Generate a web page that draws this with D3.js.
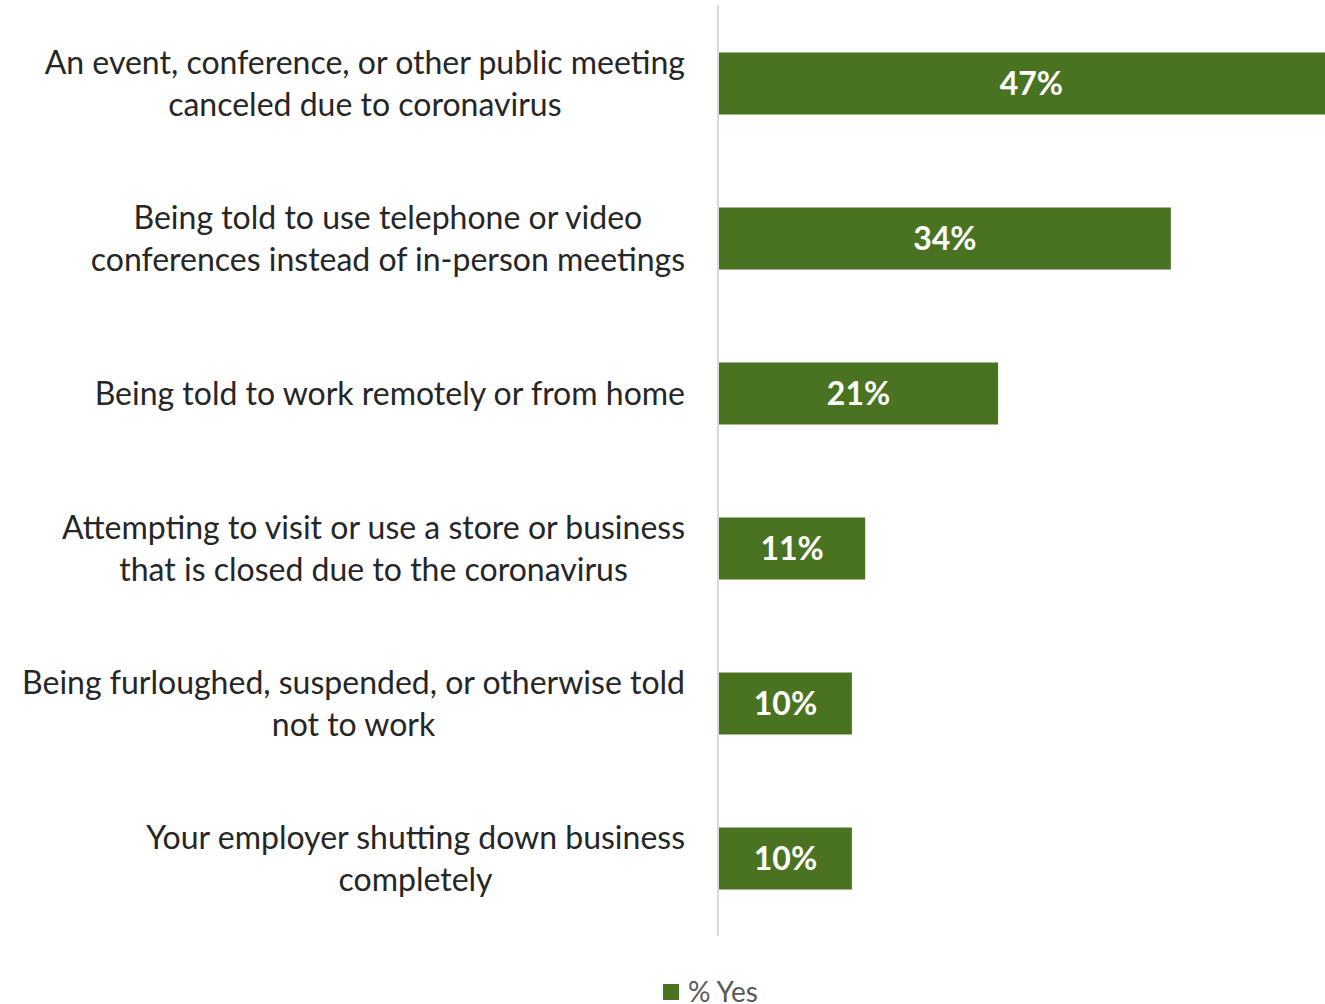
<!DOCTYPE html>
<html>
<head>
<meta charset="utf-8">
<script src="https://cdn.jsdelivr.net/npm/d3@7"></script>
<style>
  body { margin: 0; background: #fff; }
  svg { display: block; }
</style>
</head>
<body>
<div id="chart"></div>
<script>
// data
var categories = [
  ["An event, conference, or other public meeting", "canceled due to coronavirus"],
  ["Being told to use telephone or video", "conferences instead of in-person meetings"],
  ["Being told to work remotely or from home"],
  ["Attempting to visit or use a store or business", "that is closed due to the coronavirus"],
  ["Being furloughed, suspended, or otherwise told", "not to work"],
  ["Your employer shutting down business", "completely"]
];
var values = [47, 34, 21, 11, 10, 10];
var seriesName = "% Yes";

var width = 1325, height = 1004;
var green = "#4a7321";
var font = "Lato, 'Open Sans', sans-serif";

var svg = d3.select("#chart").append("svg")
    .attr("width", width)
    .attr("height", height);

var x = d3.scaleLinear()
    .domain([0, 100])
    .range([719, 2048]);

var y = d3.scaleBand()
    .domain(d3.range(categories.length))
    .range([6, 936])
    .paddingInner(0.6)
    .paddingOuter(0.3);

// bars
svg.selectAll(".bar")
    .data(values)
  .enter().append("rect")
    .attr("class", "bar")
    .attr("x", x(0))
    .attr("y", function(d, i) { return y(i); })
    .attr("width", function(d) { return x(d) - x(0); })
    .attr("height", y.bandwidth())
    .style("fill", green);

// value labels
svg.selectAll(".val")
    .data(values)
  .enter().append("text")
    .attr("class", "val")
    .attr("x", function(d) { return (x(0) + x(d)) / 2; })
    .attr("y", function(d, i) { return y(i) + y.bandwidth() / 2; })
    .attr("dy", "0.36em")
    .attr("text-anchor", "middle")
    .style("font-family", font)
    .style("font-weight", "bold")
    .style("font-size", "32px")
    .style("fill", "#fff")
    .text(function(d) { return d + "%"; });

// axis line
svg.append("line")
    .attr("x1", 718).attr("x2", 718)
    .attr("y1", 5).attr("y2", 936)
    .style("stroke", "#d9d9d9")
    .style("stroke-width", 2);

// category labels
var lineH = 42;
var lab = svg.selectAll(".cat")
    .data(categories)
  .enter().append("text")
    .attr("class", "cat")
    .attr("text-anchor", "middle")
    .style("font-family", font)
    .style("font-size", "32px")
    .style("fill", "#262626");

lab.each(function(lines, i) {
  var t = d3.select(this);
  var cy = y(i) + y.bandwidth() / 2;
  var top = cy - (lines.length - 1) * lineH / 2;
  lines.forEach(function(s, k) {
    t.append("tspan")
      .attr("y", top + k * lineH)
      .attr("dy", "0.36em")
      .text(s);
  });
});

// right-align the block, centre lines inside it (like Excel's wrapped labels)
lab.each(function() {
  var t = d3.select(this);
  var w = 0;
  t.selectAll("tspan").each(function() { w = Math.max(w, this.getComputedTextLength()); });
  t.selectAll("tspan").attr("x", 685 - w / 2);
});

// legend
var lg = svg.append("g").attr("transform", "translate(663,984)");
lg.append("rect").attr("width", 16).attr("height", 16).style("fill", green);
lg.append("text")
  .attr("x", 25).attr("y", 8).attr("dy", "0.34em")
  .style("font-family", font)
  .style("font-size", "28px")
  .style("fill", "#595959")
  .text(seriesName);
</script>
</body>
</html>
